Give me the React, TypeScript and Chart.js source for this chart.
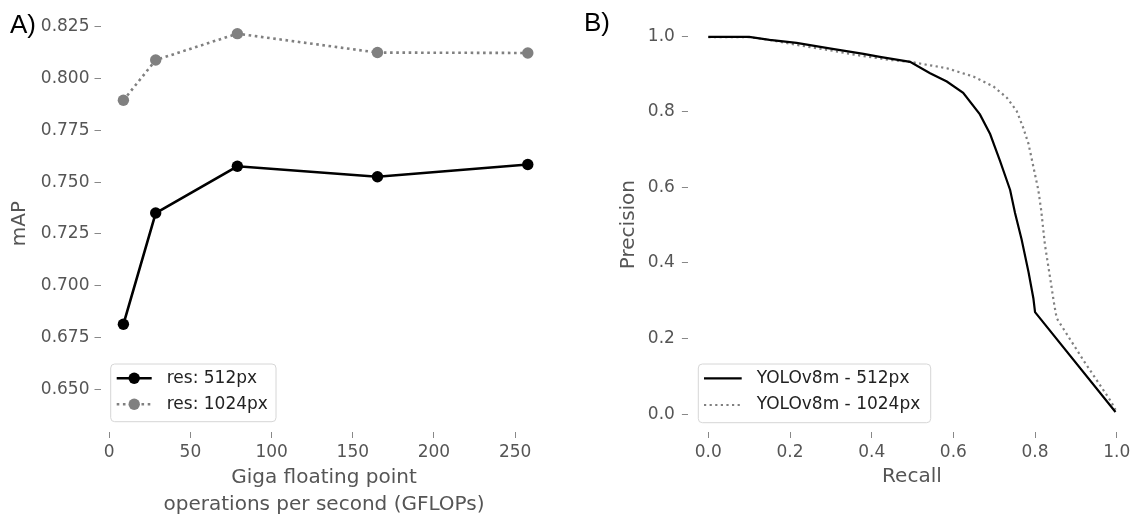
import React, { useEffect, useRef } from "react";
import { Chart, registerables } from "chart.js";

Chart.register(...registerables);

// ---------- Data ----------
const gflops = [8.7, 28.6, 78.9, 165.2, 257.8];
const map512 = [0.6815, 0.7351, 0.7576, 0.7526, 0.7585];
const map1024 = [0.7894, 0.8088, 0.8215, 0.8124, 0.8122];
const gflopTicks = [0, 50, 100, 150, 200, 250];
const mapTicks = [0.65, 0.675, 0.7, 0.725, 0.75, 0.775, 0.8, 0.825];

const recall512 = [0, 0.1, 0.15, 0.216, 0.3, 0.38, 0.42, 0.494, 0.543, 0.584, 0.624, 0.665, 0.69, 0.714, 0.739, 0.751, 0.767, 0.784, 0.796, 0.8, 0.997];
const precision512 = [0.998, 0.998, 0.99, 0.982, 0.967, 0.953, 0.945, 0.932, 0.902, 0.88, 0.85, 0.793, 0.741, 0.671, 0.593, 0.532, 0.463, 0.376, 0.306, 0.27, 0.006];
const recall1024 = [0, 0.1, 0.15, 0.22, 0.3, 0.363, 0.445, 0.494, 0.584, 0.649, 0.698, 0.731, 0.755, 0.771, 0.784, 0.796, 0.808, 0.815, 0.824, 0.837, 0.847, 0.853, 0.92, 0.984, 0.997];
const precision1024 = [0.997, 0.997, 0.99, 0.976, 0.962, 0.95, 0.937, 0.932, 0.915, 0.893, 0.867, 0.837, 0.802, 0.758, 0.715, 0.654, 0.593, 0.54, 0.45, 0.36, 0.29, 0.254, 0.14, 0.037, 0.012];
const prTicks = [0, 0.2, 0.4, 0.6, 0.8, 1.0];

// ---------- Styles ----------
const FONT = "'DejaVu Sans', sans-serif";
const LABEL_COLOR = "#555555";
const TICKMARK_COLOR = "#888888";
const GRAY = "#808080";

type LegendBox = { x: number; y: number; w: number; h: number; rows: number[]; hx0: number; hx1: number; tx: number };

function makeLegend(b: LegendBox) {
  return {
    id: "boxLegend",
    afterDraw(chart: any) {
      const ctx = chart.ctx as CanvasRenderingContext2D;
      ctx.save();
      const r = 4;
      ctx.beginPath();
      ctx.moveTo(b.x + r, b.y);
      ctx.lineTo(b.x + b.w - r, b.y);
      ctx.arcTo(b.x + b.w, b.y, b.x + b.w, b.y + r, r);
      ctx.lineTo(b.x + b.w, b.y + b.h - r);
      ctx.arcTo(b.x + b.w, b.y + b.h, b.x + b.w - r, b.y + b.h, r);
      ctx.lineTo(b.x + r, b.y + b.h);
      ctx.arcTo(b.x, b.y + b.h, b.x, b.y + b.h - r, r);
      ctx.lineTo(b.x, b.y + r);
      ctx.arcTo(b.x, b.y, b.x + r, b.y, r);
      ctx.closePath();
      ctx.fillStyle = "rgba(255,255,255,0.85)";
      ctx.fill();
      ctx.lineWidth = 1;
      ctx.strokeStyle = "#d6d6d6";
      ctx.stroke();
      chart.data.datasets.forEach((ds: any, i: number) => {
        const y = b.rows[i];
        ctx.beginPath();
        ctx.setLineDash(ds.borderDash || []);
        ctx.lineCap = "butt";
        ctx.strokeStyle = ds.borderColor;
        ctx.lineWidth = ds.borderWidth;
        ctx.moveTo(b.hx0, y);
        ctx.lineTo(b.hx1, y);
        ctx.stroke();
        ctx.setLineDash([]);
        if (ds.pointRadius > 0) {
          ctx.beginPath();
          ctx.fillStyle = ds.pointBackgroundColor;
          ctx.arc((b.hx0 + b.hx1) / 2, y, ds.pointRadius, 0, Math.PI * 2);
          ctx.fill();
        }
        ctx.fillStyle = "#222222";
        ctx.font = `17px ${FONT}`;
        ctx.textBaseline = "middle";
        ctx.textAlign = "left";
        ctx.fillText(ds.label, b.tx, y);
      });
      ctx.restore();
    },
  };
}

function tickGrid() {
  return {
    display: true,
    drawOnChartArea: false,
    drawTicks: true,
    tickLength: 6,
    tickWidth: 1,
    tickColor: TICKMARK_COLOR,
  };
}

function LeftChart() {
  const ref = useRef<HTMLCanvasElement>(null);
  useEffect(() => {
    const chart = new Chart(ref.current!, {
      type: "line",
      data: {
        datasets: [
          {
            label: "res: 512px",
            data: gflops.map((x, i) => ({ x, y: map512[i] })),
            borderColor: "#000000",
            backgroundColor: "#000000",
            pointBackgroundColor: "#000000",
            pointBorderColor: "#000000",
            borderWidth: 2.6,
            pointRadius: 5.7,
            pointBorderWidth: 0,
            tension: 0,
          },
          {
            label: "res: 1024px",
            data: gflops.map((x, i) => ({ x, y: map1024[i] })),
            borderColor: GRAY,
            backgroundColor: GRAY,
            pointBackgroundColor: GRAY,
            pointBorderColor: GRAY,
            borderWidth: 2.6,
            borderDash: [2.6, 3.6],
            pointRadius: 5.7,
            pointBorderWidth: 0,
            tension: 0,
          },
        ],
      },
      options: {
        animation: false,
        responsive: false,
        events: [],
        layout: { padding: { left: 0, top: 11.3, right: 22.4, bottom: 0 } },
        plugins: { legend: { display: false }, tooltip: { enabled: false } },
        scales: {
          x: {
            type: "linear",
            min: -5.4,
            max: 270,
            grid: tickGrid(),
            border: { display: false },
            afterBuildTicks: (s: any) => {
              s.ticks = gflopTicks.map((v) => ({ value: v }));
            },
            afterFit: (s: any) => {
              s.height = 87;
            },
            ticks: {
              color: LABEL_COLOR,
              font: { family: FONT, size: 17 },
              padding: 4,
              maxRotation: 0,
              callback: (v: any) => String(v),
            },
            title: {
              display: true,
              text: ["Giga floating point", "operations per second (GFLOPs)"],
              color: LABEL_COLOR,
              font: { family: FONT, size: 20, lineHeight: 1.35 },
              padding: { top: 0, bottom: 0.5 },
            },
          },
          y: {
            type: "linear",
            min: 0.6296,
            max: 0.8304,
            grid: tickGrid(),
            border: { display: false },
            afterBuildTicks: (s: any) => {
              s.ticks = mapTicks.map((v) => ({ value: v }));
            },
            afterFit: (s: any) => {
              s.width = 100.5;
            },
            ticks: {
              color: LABEL_COLOR,
              font: { family: FONT, size: 17 },
              padding: 5,
              callback: (v: any) => Number(v).toFixed(3),
            },
            title: {
              display: true,
              text: "mAP",
              color: LABEL_COLOR,
              font: { family: FONT, size: 20, lineHeight: 1.35 },
              padding: { top: 6.5, bottom: 0 },
            },
          },
        },
      },
      plugins: [makeLegend({ x: 110.7, y: 364, w: 165.3, h: 57.7, rows: [378.3, 404.3], hx0: 116.7, hx1: 151.7, tx: 166.7 })],
    } as any);
    return () => chart.destroy();
  }, []);
  return <canvas ref={ref} width={570} height={519} style={{ position: "absolute", left: 0, top: 0, width: 570, height: 519 }} />;
}

function RightChart() {
  const ref = useRef<HTMLCanvasElement>(null);
  useEffect(() => {
    const chart = new Chart(ref.current!, {
      type: "line",
      data: {
        datasets: [
          {
            label: "YOLOv8m - 512px",
            data: recall512.map((x, i) => ({ x, y: precision512[i] })),
            borderColor: "#000000",
            backgroundColor: "#000000",
            borderWidth: 2.2,
            pointRadius: 0,
            tension: 0,
          },
          {
            label: "YOLOv8m - 1024px",
            data: recall1024.map((x, i) => ({ x, y: precision1024[i] })),
            borderColor: GRAY,
            backgroundColor: GRAY,
            borderWidth: 2.2,
            borderDash: [2.2, 3.4],
            pointRadius: 0,
            tension: 0,
          },
        ],
      },
      options: {
        animation: false,
        responsive: false,
        events: [],
        layout: { padding: { left: 0, top: 11.5, right: 0, bottom: 0 } },
        plugins: { legend: { display: false }, tooltip: { enabled: false } },
        scales: {
          x: {
            type: "linear",
            min: -0.05,
            max: 1.0472,
            grid: tickGrid(),
            border: { display: false },
            afterBuildTicks: (s: any) => {
              s.ticks = prTicks.map((v) => ({ value: v }));
            },
            afterFit: (s: any) => {
              s.height = 87;
            },
            ticks: {
              color: LABEL_COLOR,
              font: { family: FONT, size: 17 },
              padding: 4,
              maxRotation: 0,
              callback: (v: any) => Number(v).toFixed(1),
            },
            title: {
              display: true,
              text: "Recall",
              color: LABEL_COLOR,
              font: { family: FONT, size: 20, lineHeight: 1.35 },
              padding: { top: 0, bottom: 28.5 },
            },
          },
          y: {
            type: "linear",
            min: -0.047,
            max: 1.05,
            grid: tickGrid(),
            border: { display: false },
            afterBuildTicks: (s: any) => {
              s.ticks = prTicks.map((v) => ({ value: v }));
            },
            afterFit: (s: any) => {
              s.width = 117.9;
            },
            ticks: {
              color: LABEL_COLOR,
              font: { family: FONT, size: 17 },
              padding: 7,
              callback: (v: any) => Number(v).toFixed(1),
            },
            title: {
              display: true,
              text: "Precision",
              color: LABEL_COLOR,
              font: { family: FONT, size: 20, lineHeight: 1.35 },
              padding: { top: 44.8, bottom: 0 },
            },
          },
        },
      },
      plugins: [makeLegend({ x: 128.3, y: 364, w: 232.4, h: 58.7, rows: [378.3, 405], hx0: 134, hx1: 171.7, tx: 186.7 })],
    } as any);
    return () => chart.destroy();
  }, []);
  return <canvas ref={ref} width={566} height={519} style={{ position: "absolute", left: 570, top: 0, width: 566, height: 519 }} />;
}

const panelLabel: React.CSSProperties = {
  position: "absolute",
  fontFamily: "'Liberation Sans', Arial, sans-serif",
  fontSize: 26,
  lineHeight: "26px",
  color: "#000",
  whiteSpace: "nowrap",
};

export default function App() {
  return (
    <div style={{ position: "absolute", left: 0, top: 0, width: 1136, height: 519, background: "#ffffff", overflow: "hidden" }}>
      <LeftChart />
      <RightChart />
      <div style={{ ...panelLabel, left: 10, top: 11 }}>A)</div>
      <div style={{ ...panelLabel, left: 584, top: 8.5 }}>B)</div>
    </div>
  );
}
